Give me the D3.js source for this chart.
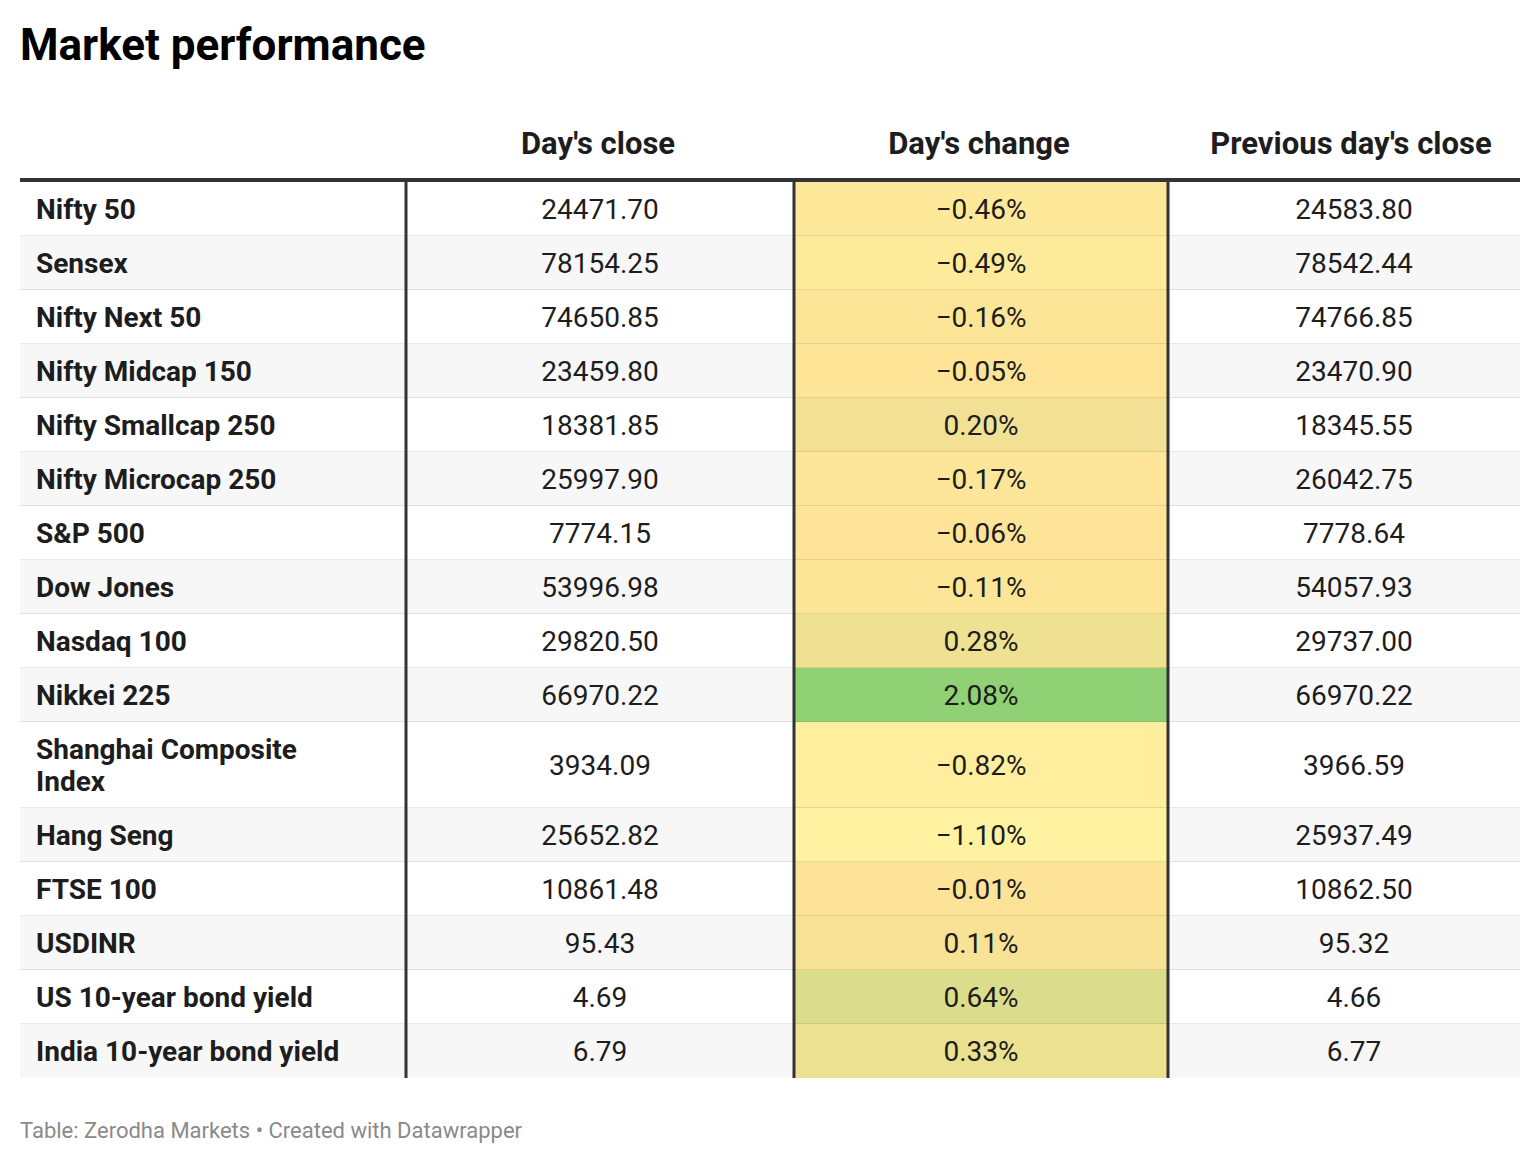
<!DOCTYPE html>
<html>
<head>
<meta charset="utf-8">
<script src="https://cdn.jsdelivr.net/npm/d3@7"></script>
<style>
  body { margin: 0; background: #fff; }
  svg { font-family: Roboto, sans-serif; display: block; }
</style>
</head>
<body>
<div class="chart"></div>
<script>
(function() {
    'use strict';

    // DATA *************************************************************
    var indices = ['Nifty 50', 'Sensex', 'Nifty Next 50', 'Nifty Midcap 150', 'Nifty Smallcap 250',
        'Nifty Microcap 250', 'S&P 500', 'Dow Jones', 'Nasdaq 100', 'Nikkei 225',
        'Shanghai Composite Index', 'Hang Seng', 'FTSE 100', 'USDINR',
        'US 10-year bond yield', 'India 10-year bond yield'];
    var dayClose = [24471.70, 78154.25, 74650.85, 23459.80, 18381.85, 25997.90, 7774.15, 53996.98,
        29820.50, 66970.22, 3934.09, 25652.82, 10861.48, 95.43, 4.69, 6.79];
    var dayChange = [-0.46, -0.49, -0.16, -0.05, 0.20, -0.17, -0.06, -0.11, 0.28, 2.08,
        -0.82, -1.10, -0.01, 0.11, 0.64, 0.33];
    var prevClose = [24583.80, 78542.44, 74766.85, 23470.90, 18345.55, 26042.75, 7778.64, 54057.93,
        29737.00, 66970.22, 3966.59, 25937.49, 10862.50, 95.32, 4.66, 6.77];
    var columns = ['', "Day's close", "Day's change", "Previous day's close"];

    // LAYOUT *************************************************************
    var W = 1540, H = 1164;
    var left = 20, right = 1520;
    var colEdges = [20, 406, 794, 1168, 1520];
    var headCenters = [null, 598, 979, 1351];
    var colCenters = [null, 600, 981, 1354];
    var headerLine = 180;
    var rowH = 54, lineH = 32;
    var labelMax = 322;
    var bodySize = 28;

    var fmtNum = d3.format('.2f');
    var fmtPct = function(v) { return d3.format('.2f')(v) + '%'; };

    // diverging heatmap colour for day's change
    var color = d3.scaleLinear()
        .domain([d3.min(dayChange), 0, d3.max(dayChange)])
        .range(['#fff2a1', '#fde397', '#8fd174'])
        .interpolate(d3.interpolateRgb);

    var svg = d3.select('.chart').append('svg')
        .attr('width', W).attr('height', H);

    // TITLE
    svg.append('text')
        .attr('x', 20).attr('y', 60)
        .attr('font-size', 44).attr('font-weight', 700)
        .attr('fill', '#000')
        .text('Market performance');

    // HEADER
    svg.selectAll('.head')
        .data(columns.slice(1))
        .enter().append('text')
        .attr('class', 'head')
        .attr('x', function(d, i) { return headCenters[i + 1]; })
        .attr('y', 154)
        .attr('text-anchor', 'middle')
        .attr('font-size', 31).attr('font-weight', 700)
        .attr('fill', '#1d1d1d')
        .text(function(d) { return d; });

    // wrap labels that are too wide for the first column
    var measure = svg.append('text').attr('font-size', bodySize).attr('font-weight', 700);
    var labelLines = indices.map(function(name) {
        var words = name.split(' '), lines = [], cur = '';
        words.forEach(function(w) {
            var test = cur ? cur + ' ' + w : w;
            measure.text(test);
            if (measure.node().getComputedTextLength() > labelMax && cur) {
                lines.push(cur); cur = w;
            } else { cur = test; }
        });
        lines.push(cur);
        return lines;
    });
    measure.remove();

    // row positions from row heights
    var rows = [];
    var y = headerLine + 2;
    indices.forEach(function(name, i) {
        var h = rowH + (labelLines[i].length - 1) * lineH;
        rows.push({ i: i, y: y, h: h, lines: labelLines[i] });
        y += h;
    });
    var tableBottom = y;

    var rowG = svg.selectAll('.row')
        .data(rows)
        .enter().append('g')
        .attr('class', 'row')
        .attr('transform', function(d) { return 'translate(0,' + d.y + ')'; });

    // row backgrounds (striped)
    rowG.append('rect')
        .attr('x', left).attr('width', right - left)
        .attr('height', function(d) { return d.h; })
        .attr('fill', function(d) { return d.i % 2 ? '#f7f7f7' : '#ffffff'; });

    // heatmap cells
    rowG.append('rect')
        .attr('x', colEdges[2]).attr('width', colEdges[3] - colEdges[2])
        .attr('height', function(d) { return d.h; })
        .attr('fill', function(d) { return color(dayChange[d.i]); });

    // row separators
    rowG.filter(function(d) { return d.i < indices.length - 1; })
        .append('rect')
        .attr('x', left).attr('width', right - left)
        .attr('y', function(d) { return d.h - 1; })
        .attr('height', 2)
        .attr('fill', 'rgba(0,0,0,0.09)');

    // labels
    rowG.append('text')
        .attr('x', 36)
        .attr('font-size', bodySize).attr('font-weight', 700)
        .attr('fill', '#1d1d1d')
        .selectAll('tspan')
        .data(function(d) {
            var n = d.lines.length;
            return d.lines.map(function(l, k) {
                return { t: l, y: d.h / 2 + 10 + (k - (n - 1) / 2) * lineH };
            });
        })
        .enter().append('tspan')
        .attr('x', 36)
        .attr('y', function(d) { return d.y; })
        .text(function(d) { return d.t; });

    // value cells
    var valueCols = [
        { values: dayClose, fmt: fmtNum },
        { values: dayChange, fmt: fmtPct },
        { values: prevClose, fmt: fmtNum }
    ];
    valueCols.forEach(function(c, k) {
        rowG.append('text')
            .attr('x', colCenters[k + 1])
            .attr('y', function(d) { return d.h / 2 + 10; })
            .attr('text-anchor', 'middle')
            .attr('font-size', bodySize)
            .attr('fill', '#1d1d1d')
            .text(function(d) { return c.fmt(c.values[d.i]); });
    });

    // header rule
    svg.append('rect')
        .attr('x', left).attr('y', headerLine - 2)
        .attr('width', right - left).attr('height', 4)
        .attr('fill', '#333');

    // vertical column rules
    svg.selectAll('.vrule')
        .data(colEdges.slice(1, 4))
        .enter().append('rect')
        .attr('class', 'vrule')
        .attr('x', function(d) { return d - 1.5; })
        .attr('y', headerLine)
        .attr('width', 3)
        .attr('height', tableBottom - headerLine)
        .attr('fill', '#333');

    // FOOTER
    svg.append('text')
        .attr('x', 20).attr('y', tableBottom + 60)
        .attr('font-size', 22)
        .attr('fill', '#8a8a8a')
        .text('Table: Zerodha Markets \u2022 Created with Datawrapper');
}());
</script>
</body>
</html>
